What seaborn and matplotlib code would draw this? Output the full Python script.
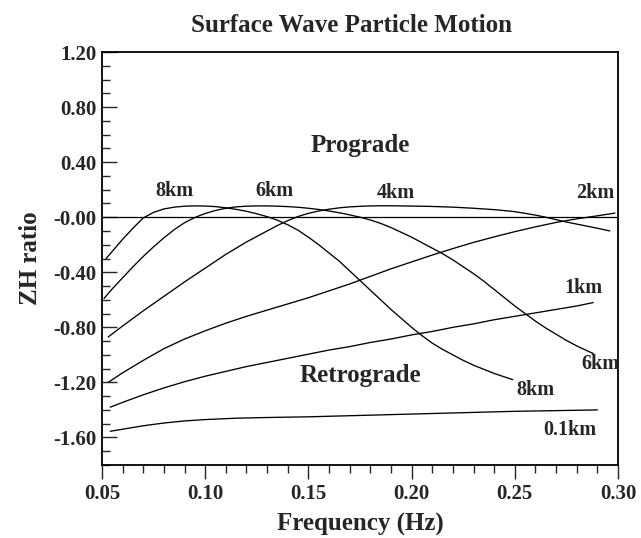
import matplotlib
matplotlib.use("Agg")
import matplotlib.pyplot as plt
from matplotlib.ticker import FixedLocator, FixedFormatter, MultipleLocator
import numpy as np
import pandas as pd
import seaborn as sns

# ZH ratio versus frequency for several sediment thicknesses
freq_8km = [0.052, 0.056, 0.060, 0.065, 0.070, 0.075, 0.080, 0.085, 0.090, 0.095,
            0.100, 0.105, 0.110, 0.115, 0.120, 0.125, 0.130, 0.135, 0.140, 0.145,
            0.150, 0.155, 0.160, 0.165, 0.170, 0.175, 0.180, 0.185, 0.190, 0.195,
            0.200, 0.205, 0.210, 0.215, 0.220, 0.225, 0.230, 0.235, 0.240, 0.245, 0.249]
zh_8km = [-0.30, -0.23, -0.16, -0.08, -0.005, 0.035, 0.060, 0.073, 0.080, 0.082,
          0.081, 0.077, 0.068, 0.057, 0.043, 0.025, 0.004, -0.022, -0.055, -0.095,
          -0.145, -0.20, -0.26, -0.32, -0.39, -0.46, -0.53, -0.60, -0.67, -0.735,
          -0.80, -0.86, -0.915, -0.96, -1.00, -1.04, -1.075, -1.105, -1.135, -1.16, -1.18]

freq_6km = [0.051, 0.055, 0.060, 0.065, 0.070, 0.075, 0.080, 0.085, 0.090, 0.095,
            0.100, 0.105, 0.110, 0.115, 0.120, 0.125, 0.130, 0.135, 0.140, 0.145,
            0.150, 0.155, 0.160, 0.165, 0.170, 0.175, 0.180, 0.185, 0.190, 0.195,
            0.200, 0.205, 0.210, 0.215, 0.220, 0.225, 0.230, 0.235, 0.240, 0.245,
            0.250, 0.255, 0.260, 0.265, 0.270, 0.275, 0.280, 0.285, 0.288]
zh_6km = [-0.59, -0.52, -0.44, -0.36, -0.285, -0.215, -0.15, -0.09, -0.04, -0.002,
          0.027, 0.049, 0.065, 0.075, 0.080, 0.082, 0.082, 0.080, 0.077, 0.072,
          0.065, 0.056, 0.045, 0.032, 0.017, 0.000, -0.02, -0.045, -0.075, -0.11,
          -0.145, -0.185, -0.225, -0.265, -0.31, -0.36, -0.41, -0.465, -0.525, -0.585,
          -0.645, -0.70, -0.755, -0.805, -0.85, -0.895, -0.935, -0.97, -0.99]

freq_4km = [0.053, 0.060, 0.070, 0.080, 0.090, 0.100, 0.110, 0.120, 0.130, 0.135,
            0.140, 0.145, 0.150, 0.155, 0.160, 0.165, 0.170, 0.175, 0.180, 0.185,
            0.190, 0.195, 0.200, 0.210, 0.220, 0.230, 0.240, 0.245, 0.250, 0.255,
            0.260, 0.265, 0.270, 0.275, 0.280, 0.285, 0.290, 0.296]
zh_4km = [-0.87, -0.79, -0.68, -0.575, -0.47, -0.37, -0.27, -0.18, -0.10, -0.06,
          -0.025, 0.005, 0.028, 0.045, 0.058, 0.068, 0.075, 0.079, 0.082, 0.083,
          0.083, 0.082, 0.081, 0.078, 0.073, 0.065, 0.055, 0.048, 0.040, 0.028,
          0.015, 0.000, -0.018, -0.035, -0.05, -0.065, -0.08, -0.10]

freq_2km = [0.053, 0.060, 0.070, 0.080, 0.090, 0.100, 0.110, 0.120, 0.130, 0.140,
            0.150, 0.160, 0.170, 0.180, 0.190, 0.200, 0.210, 0.220, 0.230, 0.240,
            0.250, 0.260, 0.270, 0.280, 0.290, 0.2985]
zh_2km = [-1.20, -1.13, -1.04, -0.955, -0.885, -0.825, -0.77, -0.72, -0.675, -0.63,
          -0.585, -0.535, -0.485, -0.43, -0.375, -0.325, -0.275, -0.228, -0.183, -0.143,
          -0.105, -0.07, -0.038, -0.012, 0.01, 0.03]

freq_1km = [0.054, 0.060, 0.070, 0.080, 0.090, 0.100, 0.110, 0.120, 0.130, 0.140,
            0.150, 0.160, 0.170, 0.180, 0.190, 0.200, 0.210, 0.220, 0.230, 0.240,
            0.250, 0.260, 0.270, 0.280, 0.288]
zh_1km = [-1.38, -1.345, -1.29, -1.24, -1.195, -1.155, -1.12, -1.085, -1.055, -1.025,
          -0.995, -0.965, -0.94, -0.91, -0.885, -0.855, -0.83, -0.80, -0.775, -0.745,
          -0.72, -0.695, -0.67, -0.645, -0.62]

freq_01km = [0.054, 0.060, 0.070, 0.080, 0.090, 0.100, 0.115, 0.130, 0.150, 0.200,
             0.250, 0.290]
zh_01km = [-1.555, -1.54, -1.515, -1.495, -1.48, -1.47, -1.46, -1.455, -1.45, -1.43,
           -1.41, -1.40]

depths = ["8km", "6km", "4km", "2km", "1km", "0.1km"]
freqs = [freq_8km, freq_6km, freq_4km, freq_2km, freq_1km, freq_01km]
ratios = [zh_8km, zh_6km, zh_4km, zh_2km, zh_1km, zh_01km]

# Curve annotations: (text, frequency, ZH ratio at baseline)
curve_labels = [
    ("8km", 0.0849, 0.153), ("6km", 0.1336, 0.153), ("4km", 0.1922, 0.138),
    ("2km", 0.2889, 0.138), ("1km", 0.2833, -0.55), ("6km", 0.2913, -1.10),
    ("8km", 0.2600, -1.29), ("0.1km", 0.2765, -1.58),
]
region_labels = [("Prograde", 0.175, 0.473), ("Retrograde", 0.175, -1.20)]

y_ticks = [-1.60, -1.20, -0.80, -0.40, 0.00, 0.40, 0.80, 1.20]
y_tick_labels = ["-1.60", "-1.20", "-0.80", "-0.40", "-0.00", "0.40", "0.80", "1.20"]
x_ticks = [0.05, 0.10, 0.15, 0.20, 0.25, 0.30]
x_tick_labels = ["0.05", "0.10", "0.15", "0.20", "0.25", "0.30"]

df = pd.DataFrame({
    "depth": np.concatenate([[d] * len(f) for d, f in zip(depths, freqs)]),
    "freq": np.concatenate(freqs),
    "zh": np.concatenate(ratios),
})

sns.set_style("white")
plt.rcParams["font.family"] = ["Liberation Serif", "DejaVu Serif"]
plt.rcParams["font.weight"] = "bold"

fig = plt.figure(figsize=(6.41, 5.38), dpi=100)
W, H = 641, 538
ax = fig.add_axes([102 / W, 1 - 465 / H, 516 / W, 413 / H])

ax.axhline(0.0, color="black", lw=0.9, zorder=1)
sns.lineplot(data=df, x="freq", y="zh", units="depth", estimator=None,
             sort=False, color="black", lw=0.95, ax=ax, legend=False)

ax.set_xlim(0.05, 0.30)
ax.set_ylim(-1.80, 1.20)

ax.xaxis.set_major_locator(FixedLocator(x_ticks))
ax.xaxis.set_major_formatter(FixedFormatter(x_tick_labels))
ax.xaxis.set_minor_locator(MultipleLocator(0.01))
ax.yaxis.set_major_locator(FixedLocator(y_ticks))
ax.yaxis.set_major_formatter(FixedFormatter(y_tick_labels))
ax.yaxis.set_minor_locator(MultipleLocator(0.1))

ax.tick_params(axis="x", which="major", direction="out", length=10, width=1.0,
               pad=4, labelsize=15, bottom=True, top=False)
ax.tick_params(axis="x", which="minor", direction="out", length=5.5, width=1.0,
               bottom=True, top=False)
ax.tick_params(axis="y", which="major", direction="in", length=11, width=1.0,
               pad=4, labelsize=15, left=True, right=False)
ax.tick_params(axis="y", which="minor", direction="in", length=6, width=1.0,
               left=True, right=False)
for lab in ax.get_xticklabels() + ax.get_yticklabels():
    lab.set_fontweight("bold")

for side in ["left", "right", "top", "bottom"]:
    ax.spines[side].set_visible(True)
    ax.spines[side].set_color("black")
    ax.spines[side].set_linewidth(1.3)

ax.set_xlabel("Frequency (Hz)", fontsize=18, fontweight="bold", labelpad=6)
ax.set_ylabel("ZH ratio", fontsize=18, fontweight="bold", labelpad=8)

for text, fx, fy in curve_labels:
    ax.text(fx, fy, text, ha="center", va="baseline", fontsize=14.5, fontweight="bold")
for text, fx, fy in region_labels:
    ax.text(fx, fy, text, ha="center", va="baseline", fontsize=18, fontweight="bold")

fig.text(351 / W, 1 - 32 / H, "Surface Wave Particle Motion", ha="center",
         va="baseline", fontsize=18, fontweight="bold")

fig.savefig("out.png", dpi=100, facecolor="white")
